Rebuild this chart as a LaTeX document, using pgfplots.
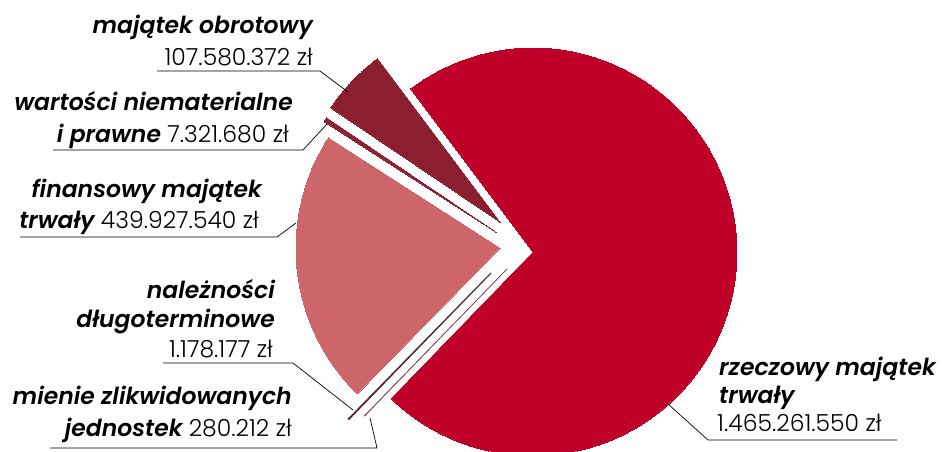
\documentclass[border=0pt]{standalone}
\usepackage{fontspec}
\setmainfont{Poppins}
\newfontfamily\lightfont{Poppins Light}
\newfontfamily\bifont{Poppins SemiBold Italic}
\usepackage{pgfplots}
\pgfplotsset{compat=1.18}
\definecolor{cRz}{HTML}{BE0028}
\definecolor{cOb}{HTML}{8B1F30}
\definecolor{cWa}{HTML}{8E2233}
\definecolor{cFi}{HTML}{CD666A}
\definecolor{cNa}{HTML}{4E2530}
\definecolor{cMi}{HTML}{7A3545}
% values (million zl)
\def\vRz{1465.261550}
\def\vOb{107.580372}
\def\vWa{7.321680}
\def\vFi{439.927540}
\def\vNa{1.178177}
\def\vMi{0.280212}
\edef\vT{\fpeval{\vRz+\vOb+\vWa+\vFi+\vNa+\vMi}}
\def\aZero{-134.1}
\edef\aRz{\fpeval{\aZero+360*\vRz/\vT}}
\edef\aOb{\fpeval{\aRz+360*\vOb/\vT}}
\edef\aWa{\fpeval{\aOb+360*\vWa/\vT}}
\edef\aFi{\fpeval{\aWa+360*\vFi/\vT}}
\edef\aNa{\fpeval{\aFi+360*\vNa/\vT}}
\edef\aMi{\fpeval{\aNa+360*\vMi/\vT}}
\def\R{204}
\newcommand{\slice}[6]{%
  \addplot[fill=#1, draw=#1, line width=#6, domain=#4:#5, samples=120, variable=\t, no marks]
    ({#2+\R*cos(\t)}, {#3-\R*sin(\t)}) -- (axis cs:#2,#3) -- cycle;}
\tikzset{lab/.style={inner sep=0pt, font=\fontsize{23.5}{28}\selectfont}}
\newcommand{\bi}[1]{{\bifont #1}}
\newcommand{\lt}[1]{{\lightfont #1}}
\begin{document}
\begin{tikzpicture}
\begin{axis}[width=942pt, height=451pt, scale only axis,
  xmin=0, xmax=942, ymin=0, ymax=451, y dir=reverse, hide axis, clip=true]
\slice{cRz}{533}{252}{\aZero}{\aRz}{0pt}
\slice{cOb}{500}{222}{\aRz}{\aOb}{0pt}
\slice{cWa}{496}{232}{\aOb}{\aWa}{0pt}
\slice{cFi}{500}{248}{\aWa}{\aFi}{0pt}
\slice{cNa}{491}{273}{\aFi}{\aNa}{1.1pt}
\slice{cMi}{507}{269}{\aNa}{\aMi}{0.7pt}
% leader lines
\addplot[black, line width=0.7pt, no marks] coordinates {(157,71) (320,71) (348,92)};
\addplot[black, line width=0.7pt, no marks] coordinates {(53,150) (303,150) (327,124)};
\addplot[black, line width=0.7pt, no marks] coordinates {(20,237) (277,237) (296,223)};
\addplot[black, line width=0.7pt, no marks] coordinates {(163,363) (293,363) (353,410)};
\addplot[black, line width=0.7pt, no marks] coordinates {(50,448) (377,448) (370,418)};
\addplot[black, line width=0.7pt, no marks] coordinates {(897,440) (708,440) (668,404)};
% labels
\node[lab, anchor=base east] at (axis cs:313,33) {\bi{majątek obrotowy}};
\node[lab, anchor=base east] at (axis cs:313,65) {\lt{107.580.372 zł}};
\node[lab, anchor=base east] at (axis cs:293,110) {\bi{wartości niematerialne}};
\node[lab, anchor=base east] at (axis cs:289,142) {\bi{i prawne} \lt{7.321.680 zł}};
\node[lab, anchor=base east] at (axis cs:262,197) {\bi{finansowy majątek}};
\node[lab, anchor=base east] at (axis cs:259,228) {\bi{trwały} \lt{439.927.540 zł}};
\node[lab, anchor=base east] at (axis cs:275,298) {\bi{należności}};
\node[lab, anchor=base east] at (axis cs:275,327) {\bi{długoterminowe}};
\node[lab, anchor=base east] at (axis cs:273,357) {\lt{1.178.177 zł}};
\node[lab, anchor=base east] at (axis cs:292,404) {\bi{mienie zlikwidowanych}};
\node[lab, anchor=base east] at (axis cs:292,436) {\bi{jednostek} \lt{280.212 zł}};
\node[lab, anchor=base west] at (axis cs:719,375) {\bi{rzeczowy majątek}};
\node[lab, anchor=base west] at (axis cs:719,403) {\bi{trwały}};
\node[lab, anchor=base west] at (axis cs:717,431) {\lt{1.465.261.550 zł}};
\end{axis}
\pgfresetboundingbox
\useasboundingbox (0,0) rectangle (942pt,451pt);
\end{tikzpicture}
\end{document}
